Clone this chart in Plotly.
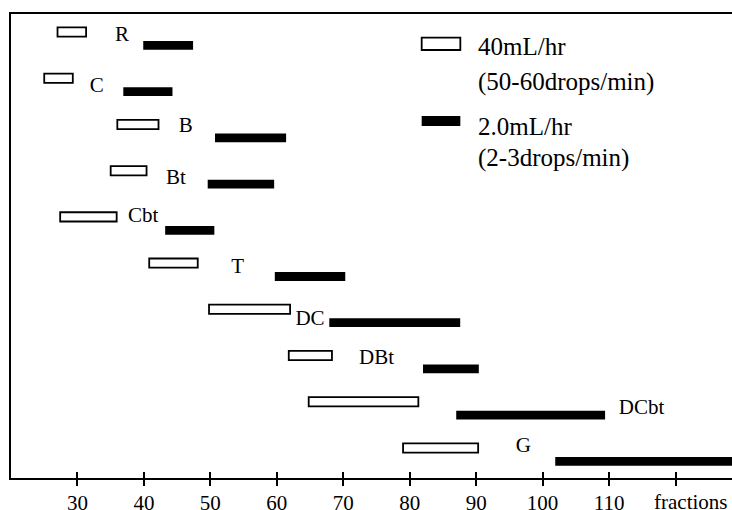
import plotly.graph_objects as go

# ---- data ----
names = ["R", "C", "B", "Bt", "Cbt", "T", "DC", "DBt", "DCbt", "G"]
rows = list(range(len(names)))
fast_start = [27.0, 25.0, 36.0, 35.0, 27.4, 40.8, 49.8, 61.8, 64.8, 79.0]
fast_end = [31.3, 29.3, 42.2, 40.4, 35.9, 48.1, 62.0, 68.3, 81.3, 90.3]
slow_start = [39.9, 36.9, 50.7, 49.6, 43.2, 59.7, 67.9, 82.0, 87.0, 101.9]
slow_end = [47.4, 44.3, 61.4, 59.6, 50.6, 70.3, 87.6, 90.4, 109.4, 130.0]
label_x = [36.7, 32.9, 46.3, 44.8, 39.9, 54.1, 65.0, 75.0, 114.9, 97.1]
label_dy = [0.07, 0.19, 0.04, 0.18, 0.0, 0.09, 0.23, 0.065, 0.15, -0.03]
tick_vals = [30, 40, 50, 60, 70, 80, 90, 100, 110, 120]
tick_text = ["30", "40", "50", "60", "70", "80", "90", "100", "110", ""]
legend_fast = ["40mL/hr", "(50-60drops/min)"]
legend_slow = ["2.0mL/hr", "(2-3drops/min)"]

SLOW_OFFSET = 0.29
FONT = "Liberation Serif, Times New Roman, serif"

fig = go.Figure()

fig.add_trace(go.Bar(
    orientation="h",
    y=rows,
    base=fast_start,
    x=[e - s for s, e in zip(fast_start, fast_end)],
    width=0.2,
    marker=dict(color="white", line=dict(color="black", width=1.8)),
    showlegend=False,
))
fig.add_trace(go.Bar(
    orientation="h",
    y=[r + SLOW_OFFSET for r in rows],
    base=slow_start,
    x=[e - s for s, e in zip(slow_start, slow_end)],
    width=0.19,
    marker=dict(color="black", line=dict(color="black", width=0)),
    showlegend=False,
))
fig.add_trace(go.Scatter(
    x=label_x,
    y=[r + d for r, d in zip(rows, label_dy)],
    mode="text",
    text=names,
    textposition="middle center",
    textfont=dict(family=FONT, size=21, color="black"),
    showlegend=False,
    xaxis="x2",
))

# custom legend
fig.add_shape(type="rect", xref="paper", yref="paper",
              x0=0.5696, x1=0.6232, y0=0.9224, y1=0.9489,
              line=dict(color="black", width=1.8), fillcolor="white")
fig.add_shape(type="rect", xref="paper", yref="paper",
              x0=0.5696, x1=0.6232, y0=0.7585, y1=0.780,
              line=dict(color="black", width=0), fillcolor="black")
for txt, yy in zip(legend_fast + legend_slow, [0.9295, 0.854, 0.757, 0.6888]):
    fig.add_annotation(text=txt, xref="paper", yref="paper", x=0.645, y=yy,
                       xanchor="left", yanchor="middle", showarrow=False,
                       font=dict(family=FONT, size=25, color="black"))

fig.add_annotation(text="fractions", xref="x", yref="paper", x=122.2, y=0,
                   yshift=-24, xanchor="center", yanchor="middle", showarrow=False,
                   font=dict(family=FONT, size=21, color="black"))

xrange = [20.0, 128.5]
fig.update_layout(
    width=732, height=510,
    margin=dict(l=11, r=0, t=14, b=32),
    paper_bgcolor="white", plot_bgcolor="white",
    barmode="overlay",
    hovermode=False,
    font=dict(family=FONT, size=21, color="black"),
    xaxis=dict(range=xrange, showgrid=False, zeroline=False, automargin=False,
               showline=True, linecolor="black", linewidth=2, mirror=True,
               ticks="inside", ticklen=6, tickwidth=2, tickcolor="black",
               ticklabelstandoff=5,
               tickvals=tick_vals, ticktext=tick_text,
               tickfont=dict(family=FONT, size=21, color="black")),
    xaxis2=dict(range=xrange, overlaying="x", anchor="y", side="bottom",
                showgrid=False, zeroline=False, showline=False, automargin=False,
                ticks="outside", ticklen=7, tickwidth=2, tickcolor="black",
                tickvals=tick_vals, showticklabels=False),
    yaxis=dict(range=[9.65, -0.39], showgrid=False, zeroline=False, automargin=False,
               showline=True, linecolor="black", linewidth=2,
               showticklabels=False, ticks=""),
)

fig.write_html(
    "out.html",
    config={"displayModeBar": False},
    post_script="document.body.style.margin='0';document.body.style.overflow='hidden';",
)
